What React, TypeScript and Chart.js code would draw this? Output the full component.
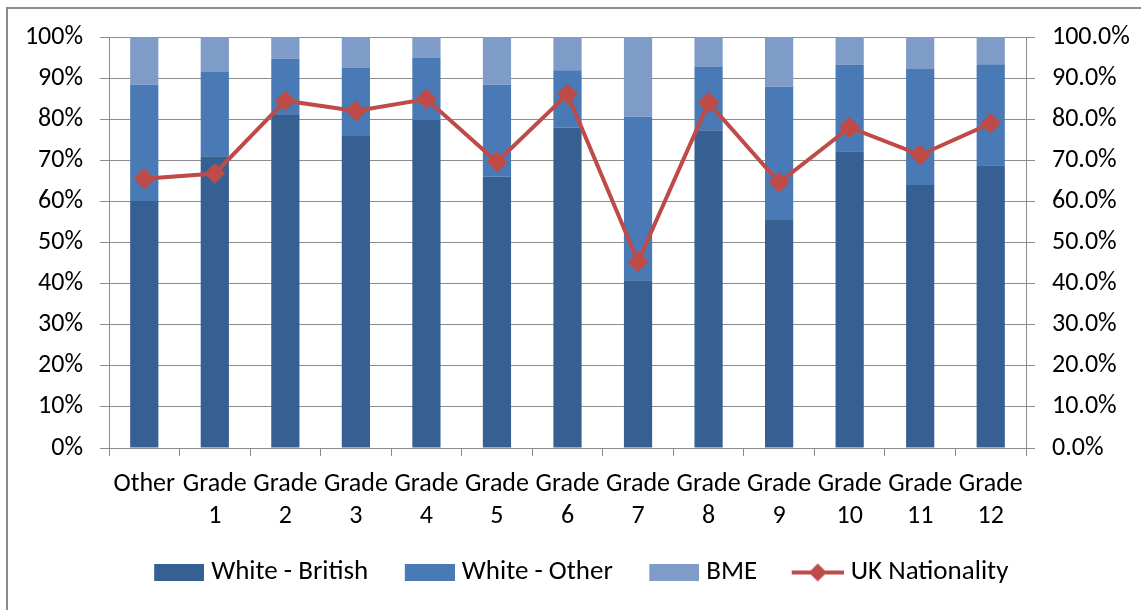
import React, { useEffect, useRef } from 'react';
import { Chart, registerables } from 'chart.js';

Chart.register(...registerables);

const categories: (string | string[])[] = [
  'Other',
  ['Grade', '1'],
  ['Grade', '2'],
  ['Grade', '3'],
  ['Grade', '4'],
  ['Grade', '5'],
  ['Grade', '6'],
  ['Grade', '7'],
  ['Grade', '8'],
  ['Grade', '9'],
  ['Grade', '10'],
  ['Grade', '11'],
  ['Grade', '12'],
];

const whiteBritish = [60.1, 71.0, 81.0, 75.9, 79.8, 66.0, 77.9, 40.8, 77.3, 55.5, 72.2, 64.0, 68.8];
const whiteOther = [28.3, 20.5, 13.7, 16.6, 15.2, 22.4, 14.0, 39.8, 15.5, 32.4, 21.0, 28.2, 24.6];
const bme = [11.6, 8.5, 5.3, 7.5, 5.0, 11.6, 8.1, 19.4, 7.2, 12.1, 6.8, 7.8, 6.6];
const ukNationality = [65.5, 66.8, 84.5, 82.0, 84.9, 69.6, 86.1, 45.3, 84.0, 64.6, 78.0, 71.3, 79.0];

const seriesNames = ['White - British', 'White - Other', 'BME', 'UK Nationality'];
const seriesColors = ['#376092', '#4A7AB6', '#7F9CC9', '#BE4B48'];

const FONT = "Carlito, Lato, 'Open Sans', sans-serif";
const FONT_SIZE = 26;
const LEGEND_FONT_SIZE = 27;
const GRID = '#8c8c8c';
const TEXT = '#000000';

const LEGEND_IMG_W = 62;

function makeBoxImage(color: string) {
  const c = document.createElement('canvas');
  c.width = LEGEND_IMG_W;
  c.height = 17;
  const g = c.getContext('2d')!;
  g.fillStyle = color;
  g.fillRect(LEGEND_IMG_W - 50, 0, 50, 17);
  return c;
}

function makeLineImage(color: string) {
  const c = document.createElement('canvas');
  c.width = LEGEND_IMG_W;
  c.height = 22;
  const g = c.getContext('2d')!;
  const x0 = LEGEND_IMG_W - 52;
  g.strokeStyle = color;
  g.lineWidth = 4;
  g.beginPath();
  g.moveTo(x0, 11);
  g.lineTo(LEGEND_IMG_W, 11);
  g.stroke();
  g.fillStyle = color;
  const cx = x0 + 26;
  g.beginPath();
  g.moveTo(cx - 9, 11);
  g.lineTo(cx, 11 - 9);
  g.lineTo(cx + 9, 11);
  g.lineTo(cx, 11 + 9);
  g.closePath();
  g.fill();
  return c;
}

export default function App() {
  const ref = useRef<HTMLCanvasElement>(null);

  useEffect(() => {
    const images = [
      makeBoxImage(seriesColors[0]),
      makeBoxImage(seriesColors[1]),
      makeBoxImage(seriesColors[2]),
      makeLineImage(seriesColors[3]),
    ];
    const font = { family: FONT, size: FONT_SIZE };
    const chart = new Chart(ref.current!, {
      type: 'bar',
      data: {
        labels: categories as any,
        datasets: [
          {
            type: 'bar',
            label: seriesNames[0],
            data: whiteBritish,
            backgroundColor: seriesColors[0],
            yAxisID: 'y',
            order: 1,
          },
          {
            type: 'bar',
            label: seriesNames[1],
            data: whiteOther,
            backgroundColor: seriesColors[1],
            yAxisID: 'y',
            order: 1,
          },
          {
            type: 'bar',
            label: seriesNames[2],
            data: bme,
            backgroundColor: seriesColors[2],
            yAxisID: 'y',
            order: 1,
          },
          {
            type: 'line',
            label: seriesNames[3],
            data: ukNationality,
            yAxisID: 'y1',
            borderColor: seriesColors[3],
            backgroundColor: seriesColors[3],
            borderWidth: 4,
            pointStyle: 'rectRot',
            pointRadius: 10,
            pointBorderWidth: 1,
            pointBackgroundColor: seriesColors[3],
            pointBorderColor: seriesColors[3],
            tension: 0,
            order: 0,
          } as any,
        ],
      },
      options: {
        responsive: false,
        animation: false,
        datasets: {
          bar: { categoryPercentage: 1, barPercentage: 0.4 },
        } as any,
        layout: { padding: { top: 37, left: 16, right: 0, bottom: 14 } },
        plugins: {
          tooltip: { enabled: false },
          legend: {
            position: 'bottom',
            labels: {
              usePointStyle: true,
              pointStyleWidth: 49,
              boxHeight: 17,
              padding: 31,
              font: { family: FONT, size: LEGEND_FONT_SIZE },
              color: TEXT,
              generateLabels: (ch: any) =>
                ch.data.datasets.map((ds: any, i: number) => ({
                  text: ds.label,
                  datasetIndex: i,
                  pointStyle: images[i],
                  fillStyle: seriesColors[i],
                  strokeStyle: seriesColors[i],
                  lineWidth: 0,
                  hidden: false,
                  fontColor: TEXT,
                })),
            },
          },
        },
        scales: {
          x: {
            stacked: true,
            grid: {
              offset: true,
              drawOnChartArea: false,
              drawTicks: true,
              tickLength: 8,
              color: GRID,
            },
            border: { color: GRID, width: 1 },
            ticks: {
              font: { family: FONT, size: FONT_SIZE, lineHeight: '32px' } as any,
              color: TEXT,
              padding: 12,
              maxRotation: 0,
              autoSkip: false,
            },
            afterFit: (s: any) => {
              s.height = 80;
            },
          },
          y: {
            stacked: true,
            min: 0,
            max: 100,
            ticks: {
              stepSize: 10,
              callback: (v: any) => `${v}%`,
              padding: 17,
              font,
              color: TEXT,
            },
            grid: { color: GRID, tickLength: 9 },
            border: { color: GRID, width: 1 },
            afterFit: (s: any) => {
              s.width = 93;
            },
          },
          y1: {
            position: 'right',
            min: 0,
            max: 100,
            ticks: {
              stepSize: 10,
              callback: (v: any) => `${Number(v).toFixed(1)}%`,
              padding: 17,
              font,
              color: TEXT,
            },
            grid: { drawOnChartArea: false, color: GRID, tickLength: 9 },
            border: { color: GRID, width: 1 },
            afterFit: (s: any) => {
              s.width = 115;
            },
          },
        },
      } as any,
    });
    return () => chart.destroy();
  }, []);

  return (
    <div
      style={{
        position: 'fixed',
        left: 0,
        top: 0,
        width: 1141,
        height: 610,
        background: '#ffffff',
        overflow: 'hidden',
      }}
    >
      <div
        style={{
          position: 'absolute',
          left: 6,
          top: 7,
          width: 1200,
          height: 700,
          border: '2px solid #8c8c8c',
          boxSizing: 'border-box',
        }}
      />
      <canvas
        ref={ref}
        width={1141}
        height={610}
        style={{ position: 'absolute', left: 0, top: 0, width: 1141, height: 610 }}
      />
    </div>
  );
}
